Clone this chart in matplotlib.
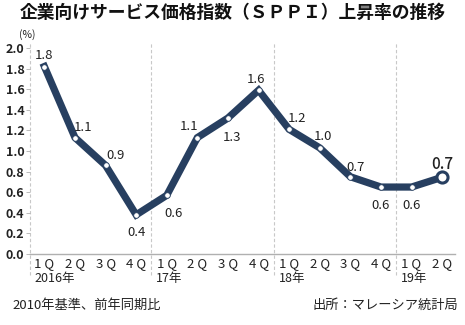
import matplotlib
matplotlib.use('Agg')
import matplotlib.pyplot as plt
from matplotlib.ticker import MultipleLocator

plt.rcParams['font.family'] = ['Noto Sans CJK JP', 'DejaVu Sans']

# Данные
quarters = ['1 Q', '2 Q', '3 Q', '4 Q'] * 3 + ['1 Q', '2 Q']
years = ['2016年', '17年', '18年', '19年']
values = [1.82, 1.13, 0.86, 0.38,
          0.57, 1.13, 1.32, 1.59,
          1.21, 1.03, 0.75, 0.65,
          0.65, 0.745]
labels = ['1.8', '1.1', '0.9', '0.4',
          '0.6', '1.1', '1.3', '1.6',
          '1.2', '1.0', '0.7', '0.6',
          '0.6', '0.7']
# смещения подписей (точки)
label_offsets = [(0, 8), (6, 7), (7, 7), (0, -13),
                 (5, -13), (-6, 8), (3, -14), (-2, 8),
                 (6, 8), (2, 8), (4, 7), (0, -13),
                 (0, -13), (0, 9)]

line_color = '#273f60'
grid_color = '#c8c8c8'

fig = plt.figure(figsize=(4.65, 3.25), dpi=100)
ax = fig.add_axes([30 / 465, 1 - 254 / 325, 425 / 465, 212 / 325])

x = list(range(len(values)))
ax.plot(x, values, color=line_color, linewidth=5.2, solid_joinstyle='miter',
        zorder=3)
ax.plot(x[:-1], values[:-1], linestyle='none', marker='o', markersize=4,
        markerfacecolor='white', markeredgecolor=line_color,
        markeredgewidth=0.6, zorder=4)
ax.plot(x[-1:], values[-1:], linestyle='none', marker='o', markersize=8,
        markerfacecolor='white', markeredgecolor=line_color,
        markeredgewidth=2.2, zorder=4)

for i, (v, t, off) in enumerate(zip(values, labels, label_offsets)):
    big = i == len(values) - 1
    ax.annotate(t, (i, v), xytext=off, textcoords='offset points',
                ha='center', va='center', fontsize=11 if big else 9.5,
                fontweight='medium' if big else 'normal',
                color='#222222', zorder=5)

ax.set_xlim(-0.47, 13.42)
ax.set_ylim(0, 2.058)

# Вертикальные разделители годов
for xd in [-0.47, 3.5, 7.5, 11.5]:
    ax.axvline(xd, ymin=-0.1, ymax=1, color=grid_color, linewidth=0.8,
               linestyle=(0, (3, 2)), clip_on=False, zorder=1)

for s in ['top', 'right', 'left']:
    ax.spines[s].set_visible(False)
ax.spines['bottom'].set_color('#b0b0b0')
ax.spines['bottom'].set_linewidth(1)

ax.yaxis.set_major_locator(MultipleLocator(0.2))
ax.set_yticks([i / 10 for i in range(0, 21, 2)])
ax.set_yticklabels([f'{i / 10:.1f}' for i in range(0, 21, 2)],
                   fontsize=9, fontweight='bold', color='#222222')
ax.tick_params(axis='y', length=3, width=0.6, color='#b0b0b0', pad=1)

ax.set_xticks(x)
ax.set_xticklabels(quarters, fontsize=9.5, color='#222222')
ax.tick_params(axis='x', length=0, pad=2)

year_pos = [-0.47, 3.5, 7.5, 11.5]
for xp, y in zip(year_pos, years):
    ax.text(xp + 0.15, -0.115, y, transform=ax.get_xaxis_transform(),
            ha='left', va='center', fontsize=9, color='#222222')

ax.text(-0.57, 2.13, '(%)', ha='center', va='center', fontsize=7.5,
        color='#222222', clip_on=False)

fig.text(0.5, 1 - 13 / 325, '企業向けサービス価格指数（ＳＰＰＩ）上昇率の推移',
         ha='center', va='center', fontsize=12.8, fontweight='bold',
         color='#111111')
fig.text(12 / 465, 1 - 305 / 325, '2010年基準、前年同期比', ha='left',
         va='center', fontsize=9.5, color='#222222')
fig.text(458 / 465, 1 - 305 / 325, '出所：マレーシア統計局', ha='right',
         va='center', fontsize=9.5, color='#222222')

fig.savefig('out.png', dpi=100)
